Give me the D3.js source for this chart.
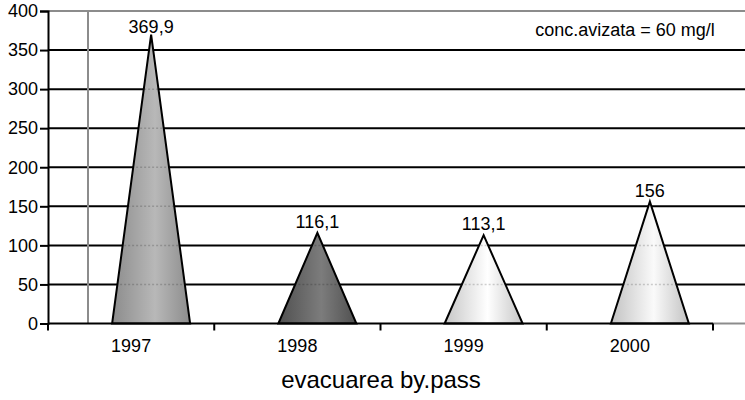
<!DOCTYPE html>
<html><head><meta charset="utf-8">
<script src="https://cdn.jsdelivr.net/npm/d3@7"></script>
<style>body{margin:0;background:#fff}svg{display:block;font-family:"Liberation Sans",Arial,sans-serif}</style>
</head><body><svg id="c" width="745" height="400"></svg>
<script>
const categories = ["1997","1998","1999","2000"];
const values = [369.9, 116.1, 113.1, 156];
const valueLabels = ["369,9","116,1","113,1","156"];
const yTicks = [0,50,100,150,200,250,300,350,400];
const fills = [["#8c8c8c","#b8b8b8"],["#505050","#7c7c7c"],["#c6c6c6","#ffffff"],["#c2c2c2","#fafafa"]];

const svg = d3.select("#c");
const x0 = 48, x1 = 713, yTop = 11, yBot = 323.5;
const x = d3.scaleBand().domain(categories).range([x0, x1]).padding(0);
const y = d3.scaleLinear().domain([0,400]).range([yBot, yTop]);
const depth = 20, halfW = 39;
const cx = i => x(categories[i]) + x.bandwidth()/2 + depth;
const triPath = (d,i) => `M${cx(i)-halfW},${y(0)}L${cx(i)},${y(d)}L${cx(i)+halfW},${y(0)}Z`;

const defs = svg.append("defs");
fills.forEach((f,i)=>{
  const g = defs.append("linearGradient").attr("id","g"+i).attr("x1","0").attr("x2","1").attr("y1","0").attr("y2","0");
  g.append("stop").attr("offset","0%").attr("stop-color",f[0]);
  g.append("stop").attr("offset","55%").attr("stop-color",f[1]);
  g.append("stop").attr("offset","100%").attr("stop-color",f[0]);
  defs.append("clipPath").attr("id","cp"+i).append("path").attr("d",triPath(values[i],i));
});

// gridlines
svg.append("g").selectAll("line").data(yTicks.filter(d=>d>0)).join("line")
  .attr("x1",x0).attr("x2",745).attr("y1",d=>y(d)).attr("y2",d=>y(d))
  .attr("stroke",d=>d===400?"#8c8c8c":"#000").attr("stroke-width",2);
// back wall vertical line
svg.append("line").attr("x1",x0+40).attr("x2",x0+40).attr("y1",y(400)).attr("y2",y(0))
  .attr("stroke","#8c8c8c").attr("stroke-width",2);

// triangles
svg.append("g").selectAll("path").data(values).join("path")
  .attr("d",triPath)
  .attr("fill",(d,i)=>`url(#g${i})`);
// faint dotted gridlines seen through the triangles
values.forEach((v,i)=>{
  svg.append("g").attr("clip-path",`url(#cp${i})`).selectAll("line")
    .data(yTicks.filter(t=>t>0 && t<v)).join("line")
    .attr("x1",cx(i)-halfW).attr("x2",cx(i)+halfW).attr("y1",t=>y(t)).attr("y2",t=>y(t))
    .attr("stroke","#000").attr("stroke-opacity",0.18).attr("stroke-width",1.5).attr("stroke-dasharray","2,2");
});
svg.append("g").selectAll("path").data(values).join("path")
  .attr("d",triPath).attr("fill","none").attr("stroke","#000").attr("stroke-width",2);

// value labels
svg.append("g").selectAll("text").data(values).join("text")
  .attr("x",(d,i)=>cx(i))
  .attr("y",d=>Math.max(y(d)-5, 33)).attr("text-anchor","middle").attr("font-size",18).attr("fill","#000")
  .text((d,i)=>valueLabels[i]);

// x axis
svg.append("line").attr("x1",x0).attr("x2",x1).attr("y1",y(0)).attr("y2",y(0)).attr("stroke","#000").attr("stroke-width",2);
svg.append("line").attr("x1",x1).attr("x2",745).attr("y1",y(0)).attr("y2",y(0)).attr("stroke","#8c8c8c").attr("stroke-width",2);
const bounds = categories.map(c=>x(c)).concat([x1]);
svg.append("g").selectAll("line").data(bounds).join("line")
  .attr("x1",d=>d).attr("x2",d=>d).attr("y1",y(0)).attr("y2",y(0)+7).attr("stroke","#000").attr("stroke-width",2);
svg.append("g").selectAll("text").data(categories).join("text")
  .attr("x",d=>x(d)+x.bandwidth()/2).attr("y",352).attr("text-anchor","middle").attr("font-size",18).text(d=>d);

// y axis
const ya = svg.append("g").attr("transform",`translate(${x0},0)`)
  .call(d3.axisLeft(y).tickValues(yTicks).tickSize(8).tickPadding(2).tickFormat(d3.format("d")));
ya.select(".domain").attr("stroke","#000").attr("stroke-width",2);
ya.selectAll(".tick line").attr("stroke","#000").attr("stroke-width",2);
ya.selectAll(".tick text").attr("font-size",18).attr("fill","#000").attr("font-family","Liberation Sans, Arial, sans-serif");

// titles
svg.append("text").attr("x",381).attr("y",388).attr("text-anchor","middle").attr("font-size",24).text("evacuarea by.pass");
svg.append("text").attr("x",625).attr("y",36).attr("text-anchor","middle").attr("font-size",18).text("conc.avizata = 60 mg/l");
</script></body></html>
